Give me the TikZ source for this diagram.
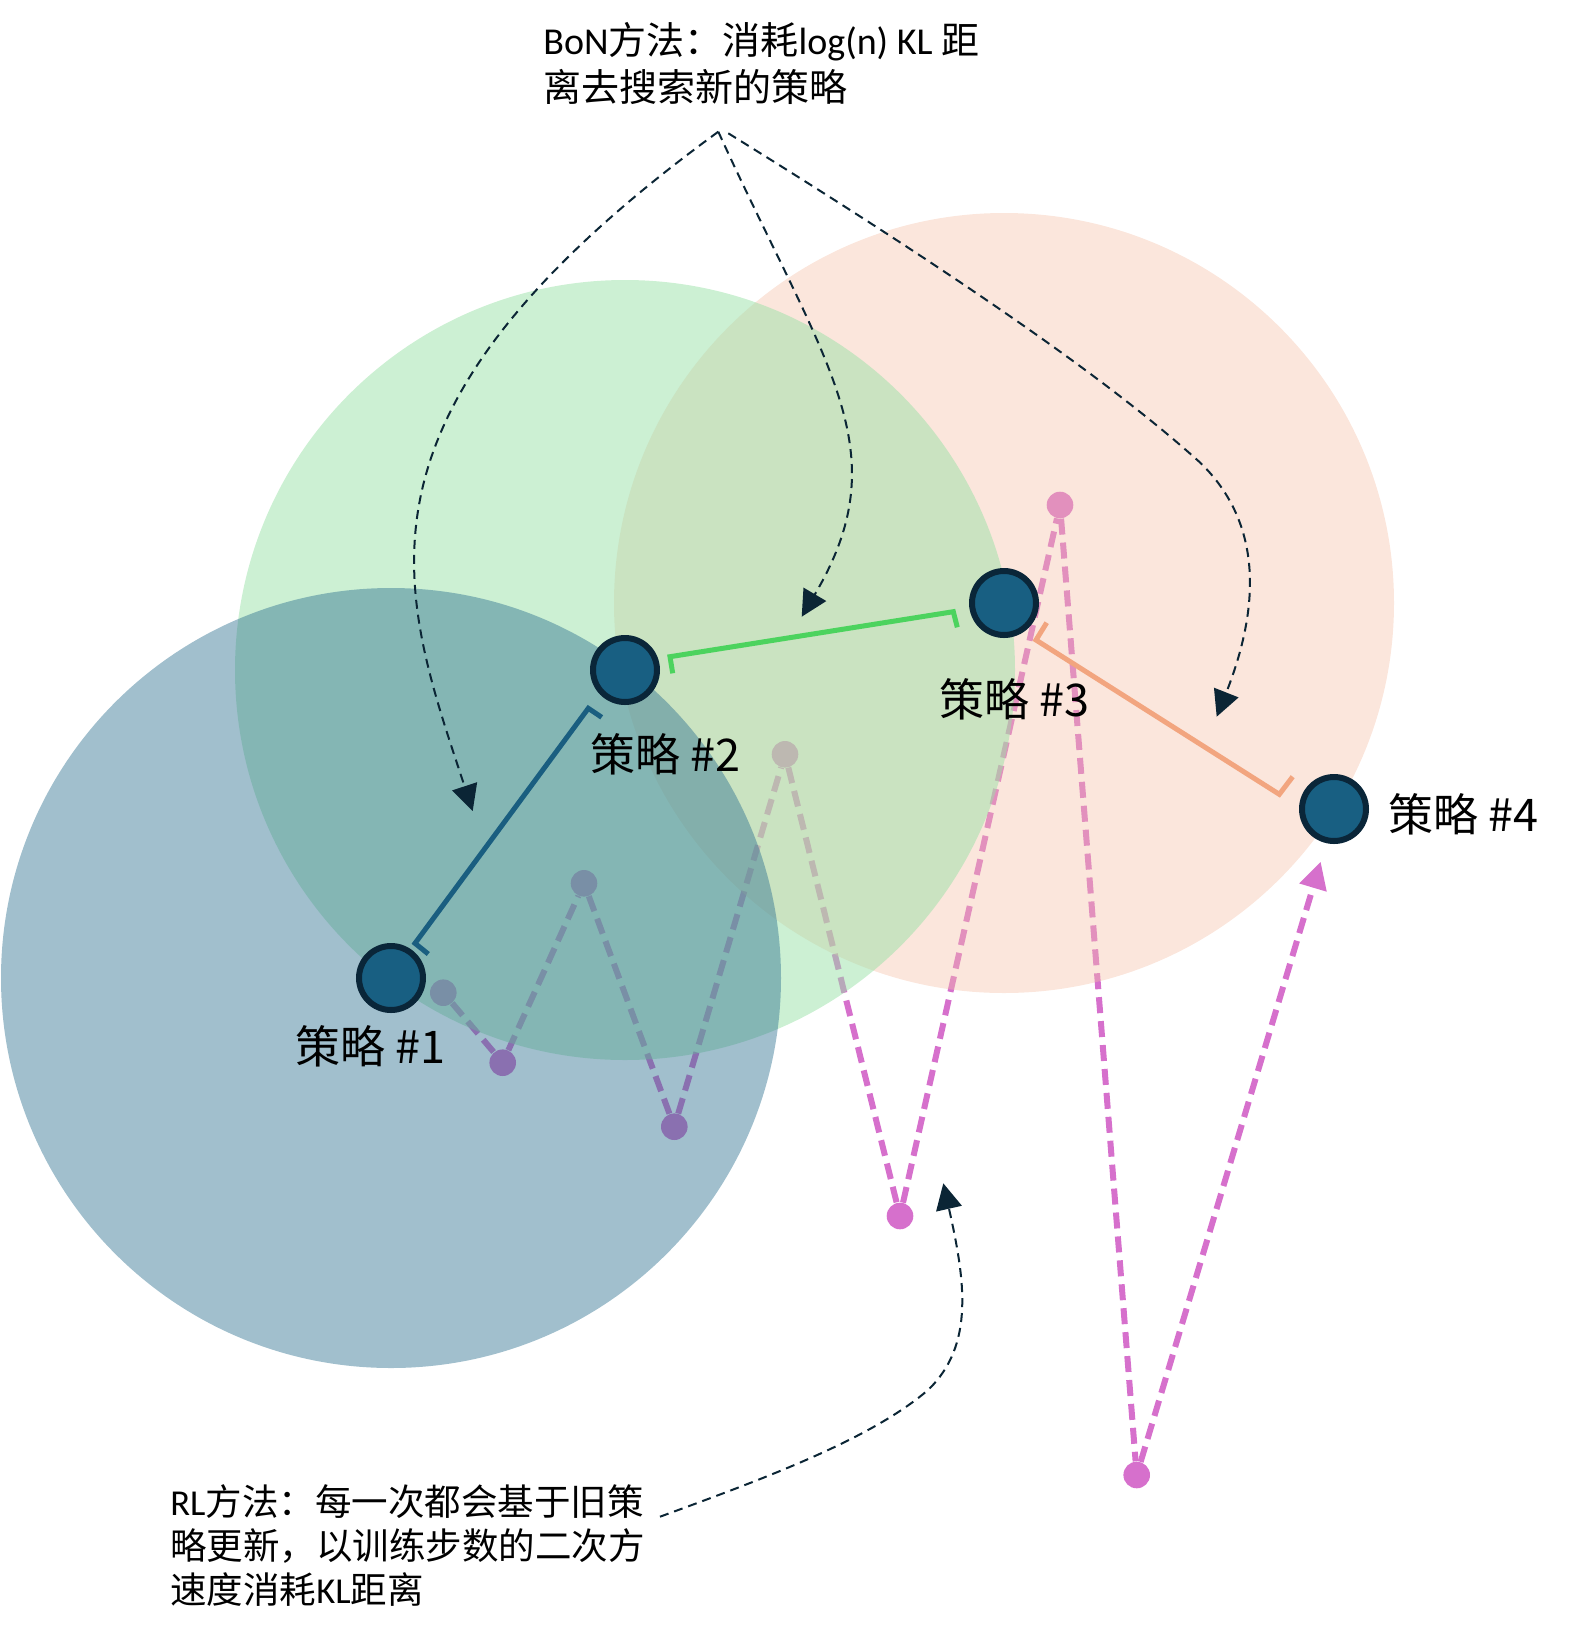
\documentclass[tikz,border=0pt]{standalone}
\usepackage{fontspec}
\setmainfont{Carlito}
\newfontfamily\cjk{Noto Sans CJK SC}
\usetikzlibrary{arrows.meta}
\definecolor{peachc}{RGB}{245,192,167}
\definecolor{greenc}{RGB}{153,225,167}
\definecolor{bluec}{RGB}{46,113,144}
\definecolor{nodefill}{RGB}{24,95,130}
\definecolor{nodeedge}{RGB}{10,38,57}
\definecolor{rlc}{RGB}{214,112,204}
\definecolor{arrowc}{RGB}{11,37,53}
\definecolor{bbrk}{RGB}{26,94,128}
\definecolor{gbrk}{RGB}{76,211,94}
\definecolor{obrk}{RGB}{242,165,127}
\begin{document}
\begin{tikzpicture}[x=0.5pt,y=-0.5pt,
  policy/.style={circle, fill=nodefill, draw=nodeedge, line width=3pt, minimum size=32pt, inner sep=0pt},
  rldot/.style={circle, fill=rlc, minimum size=13.3pt, inner sep=0pt},
  rlline/.style={draw=rlc, line width=3pt, dash pattern=on 8pt off 4pt},
  bonarrow/.style={draw=arrowc, line width=1pt, dash pattern=on 4.5pt off 3pt, -{Triangle[length=13pt,width=13pt]}},
  bracketline/.style={line width=2.5pt, line join=miter},
  lbl/.style={font={\cjk\fontsize{22.5pt}{27pt}\selectfont}, inner sep=0pt, anchor=base west},
  note/.style={inner sep=0pt, anchor=north west, align=left}
]
\useasboundingbox (0,0) rectangle (1573,1634);

% policy centres
\coordinate (c1) at (391,978);
\coordinate (c2) at (625,670);
\coordinate (c3) at (1004,603);
\coordinate (c4) at (1334,809);

% RL zigzag (under the circles)
\node[rldot] (r0) at (443.3,992.7) {};
\node[rldot] (r1) at (502.7,1062.7) {};
\node[rldot] (r2) at (584,883.3) {};
\node[rldot] (r3) at (674.3,1126.7) {};
\node[rldot] (r4) at (785,754.3) {};
\node[rldot] (r5) at (900,1216) {};
\node[rldot] (r6) at (1060,505) {};
\node[rldot] (r7) at (1136.7,1475) {};
\coordinate (rtip) at (1320.7,861.7);
\draw[rlline] (r0) -- (r1);
\draw[rlline] (r1) -- (r2);
\draw[rlline] (r2) -- (r3);
\draw[rlline] (r3) -- (r4);
\draw[rlline] (r4) -- (r5);
\draw[rlline] (r5) -- (r6);
\draw[rlline] (r6) -- (r7);
\draw[rlline, -{Triangle[length=13.5pt,width=13.5pt]}] (r7) -- (rtip);

% trust regions
\fill[peachc, fill opacity=0.4] (c3) circle[radius=195pt];
\fill[greenc, fill opacity=0.5] (c2) circle[radius=195pt];
\fill[bluec, fill opacity=0.45] (c1) circle[radius=195pt];

% KL brackets
\draw[bracketline, bbrk] (428.3,954) -- (415,943.3) -- (588.3,708.3) -- (601.7,717.3);
\draw[bracketline, gbrk] (672.7,673.3) -- (670,656.7) -- (953.3,611.7) -- (957.3,627.3);
\draw[bracketline, obrk] (1046.7,622.7) -- (1036,640) -- (1279.3,794.3) -- (1292.7,776.7);

% policies
\node[policy] (p1) at (c1) {};
\node[policy] (p2) at (c2) {};
\node[policy] (p3) at (c3) {};
\node[policy] (p4) at (c4) {};
\node[lbl] (l1) at (295,1063.3) {策略 \#1};
\node[lbl] (l2) at (590,771.7) {策略 \#2};
\node[lbl] (l3) at (939,716.7) {策略 \#3};
\node[lbl] (l4) at (1388,831.7) {策略 \#4};

% BoN note and arrows
\node[note, font={\fontsize{19pt}{23.5pt}\selectfont}] (bontext) at (543,21.5)
  {BoN{\cjk 方法：消耗}log(n) KL {\cjk 距}\\{\cjk 离去搜索新的策略}};
\coordinate (bonA) at (718.3,131.7);
\coordinate (bonB) at (728.3,133.3);
\coordinate (tL) at (472.7,811);
\coordinate (tM) at (801.7,616.7);
\coordinate (tR) at (1216.7,716.7);
\draw[bonarrow] (bonA) .. controls (330,415) and (400,590) .. (tL);
\draw[bonarrow] (bonA) .. controls (826.6,369) and (900,450) .. (tM);
\draw[bonarrow] (bonB) .. controls (1001.3,302.5) and (1126.4,396.3) .. (1199.5,462)
  .. controls (1267.2,526.7) and (1256.8,615.4) .. (tR);

% RL note and arrow
\node[note, font={\fontsize{18.25pt}{22pt}\selectfont}] (rltext) at (170,1484)
  {RL{\cjk 方法：每一次都会基于旧策}\\{\cjk 略更新，以训练步数的二次方}\\{\cjk 速度消耗}KL{\cjk 距离}};
\coordinate (rlS) at (660,1516.7);
\coordinate (tRL) at (943.3,1183.3);
\draw[bonarrow] (rlS) .. controls (760,1480) and (870,1440) .. (928,1390)
  .. controls (975,1345) and (965,1280) .. (tRL);
\end{tikzpicture}
\end{document}
